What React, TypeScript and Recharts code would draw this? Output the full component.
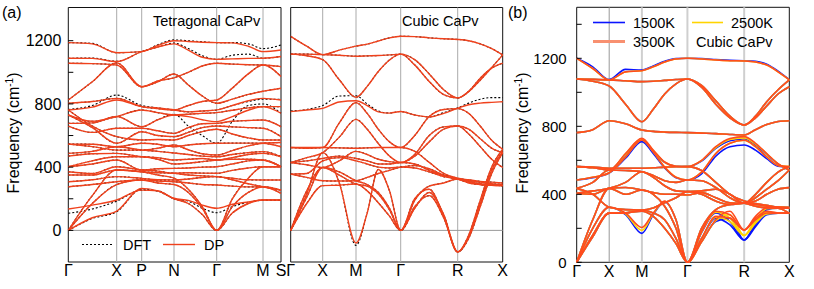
import React from 'react';
import { LineChart, Line, XAxis, YAxis, ReferenceLine, ReferenceArea } from 'recharts';

const FONT = '"Liberation Sans", Arial, Helvetica, sans-serif';

// ---------- panel (a) left: tetragonal CaPv, path G-X-P-N-G-M-S ----------
const tetK = [0, 24, 48.4, 73.4, 89.5, 105.7, 120, 134, 148.4, 164, 180, 194.7, 212.7];
const tetTicks = [0, 48.4, 73.4, 105.7, 148.4, 194.7, 212.7];
const tetLabels = ['Γ', 'X', 'P', 'N', 'Γ', 'M', 'S'];

const tetDP = [
  [1188, 1180, 1124, 1131, 1170, 1200, 1195, 1190, 1188, 1186, 1165, 1131, 1141],
  [1089, 1088, 1068, 1131, 1160, 1180, 1140, 1095, 1082, 1085, 1088, 1089, 1100],
  [1057, 1055, 1046, 909, 940, 989, 920, 850, 804, 830, 860, 880, 899],
  [825, 940, 1060, 909, 945, 965, 1000, 1040, 1057, 1052, 1048, 1046, 1036],
  [804, 815, 835, 783, 770, 762, 790, 815, 825, 900, 990, 1046, 973],
  [762, 780, 825, 783, 775, 762, 750, 755, 762, 790, 820, 835, 825],
  [730, 690, 720, 762, 745, 730, 735, 740, 745, 760, 775, 783, 783],
  [677, 680, 720, 656, 700, 730, 720, 700, 688, 720, 760, 783, 741],
  [660, 620, 646, 646, 630, 614, 650, 675, 677, 690, 695, 698, 656],
  [730, 650, 551, 624, 600, 593, 620, 650, 660, 655, 650, 646, 593],
  [762, 660, 593, 572, 575, 572, 600, 625, 640, 610, 585, 572, 572],
  [546, 545, 529, 551, 545, 529, 540, 548, 551, 552, 552, 551, 529],
  [546, 530, 508, 508, 520, 540, 510, 485, 477, 505, 535, 551, 556],
  [487, 500, 529, 508, 500, 490, 480, 470, 466, 480, 492, 498, 466],
  [470, 485, 487, 466, 460, 445, 450, 455, 445, 460, 480, 487, 466],
  [403, 440, 466, 466, 450, 420, 425, 435, 445, 450, 450, 445, 403],
  [403, 420, 445, 382, 390, 392, 395, 400, 403, 420, 440, 445, 403],
  [371, 360, 403, 382, 375, 361, 365, 362, 361, 380, 395, 403, 403],
  [350, 350, 382, 371, 365, 361, 350, 345, 340, 330, 320, 319, 319],
  [308, 320, 340, 329, 320, 319, 325, 335, 340, 320, 295, 276, 255],
  [276, 290, 308, 319, 312, 308, 300, 290, 287, 280, 275, 276, 234],
  [135, 160, 192, 255, 250, 203, 190, 160, 140, 165, 180, 192, 192],
  [0, 80, 122, 266, 250, 200, 170, 100, 0, 110, 170, 192, 192],
  [0, 170, 290, 319, 300, 290, 240, 140, 0, 150, 240, 276, 255],
  [0, 220, 382, 371, 350, 330, 260, 150, 0, 200, 330, 403, 403],
];
// DFT bands where they visibly leave the DP ones
const tetDFTEdits: Record<number, number[]> = {
  0: [1188, 1183, 1124, 1131, 1175, 1205, 1200, 1193, 1188, 1188, 1180, 1150, 1173],
  1: [1089, 1090, 1070, 1131, 1160, 1185, 1150, 1105, 1082, 1108, 1115, 1089, 1100],
  5: [765, 790, 856, 790, 775, 762, 750, 755, 762, 790, 815, 830, 830],
  7: [677, 680, 720, 656, 700, 735, 660, 600, 551, 690, 790, 800, 741],
  21: [108, 135, 185, 255, 250, 200, 185, 140, 112, 150, 178, 192, 192],
  22: [0, 75, 118, 262, 248, 200, 170, 100, 0, 110, 170, 190, 190],
};
const tetDFT = tetDP.map((b, i) => tetDFTEdits[i] ?? b);

// ---------- panel (a) right: cubic CaPv, path G-X-M-G-R-X ----------
const cubK = [0, 16, 32, 48.6, 65.3, 76.5, 87.6, 98.8, 110, 124, 138.5, 153, 167, 178, 189.5, 201, 212];
const cubTicks = [0, 32, 65.3, 110, 167, 212];
const cubLabels = ['Γ', 'X', 'M', 'Γ', 'R', 'X'];

const cubDP = [
  [1227, 1165, 1112, 1140, 1166, 1178, 1198, 1218, 1228, 1226, 1218, 1212, 1208, 1200, 1180, 1150, 1110],
  [1115, 1115, 1112, 1108, 1102, 1104, 1106, 1110, 1115, 1080, 990, 890, 838, 878, 950, 1030, 1110],
  [1115, 1105, 1080, 953, 842, 911, 1005, 1078, 1115, 1047, 942, 859, 838, 880, 963, 1026, 1058],
  [751, 762, 772, 812, 820, 790, 750, 742, 752, 730, 718, 740, 773, 795, 805, 810, 814],
  [524, 520, 524, 680, 808, 740, 640, 560, 524, 600, 720, 765, 770, 740, 660, 570, 513],
  [429, 460, 492, 590, 702, 640, 550, 470, 429, 480, 600, 655, 660, 640, 580, 520, 490],
  [524, 524, 524, 522, 520, 522, 524, 524, 524, 500, 430, 360, 330, 320, 310, 305, 300],
  [429, 415, 398, 440, 500, 480, 450, 435, 429, 470, 560, 640, 660, 610, 530, 450, 398],
  [429, 440, 455, 470, 455, 440, 420, 420, 429, 420, 380, 345, 325, 315, 305, 295, 290],
  [356, 335, 314, 312, 314, 335, 360, 380, 400, 410, 390, 350, 325, 305, 290, 285, 283],
  [0, 170, 283, 286, 293, 250, 175, 90, 0, 140, 240, 100, -136, -30, 190, 400, 513],
  [0, 230, 492, 300, -80, 110, 385, 250, 0, 150, 220, 80, -136, -40, 170, 380, 500],
  [0, 210, 398, 370, 314, 290, 240, 140, 0, 190, 280, 300, 325, 310, 295, 288, 283],
  [0, 250, 398, 350, 293, 280, 230, 130, 0, 200, 260, 90, -136, -50, 150, 360, 490],
  [356, 360, 440, 460, 440, 420, 400, 395, 400, 395, 370, 340, 325, 300, 290, 285, 283],
];
const cubDFTEdits: Record<number, number[]> = {
  3: [755, 765, 790, 850, 852, 800, 755, 742, 752, 730, 718, 745, 775, 805, 830, 840, 840],
  11: [0, 230, 492, 300, -95, 110, 385, 250, 0, 150, 220, 80, -136, -40, 170, 380, 500],
};
const cubDFT = cubDP.map((b, i) => cubDFTEdits[i] ?? b);

// ---------- panel (b): cubic CaPv at three temperatures ----------
const hotK = [0, 16, 32.4, 48.7, 65, 76.3, 87.7, 99, 110.4, 124.5, 138.7, 152.8, 167, 178.3, 189.5, 200.8, 212];
const hotTicks = [0, 32.4, 65, 110.4, 167, 212];
const hotLabels = ['Γ', 'X', 'M', 'Γ', 'R', 'X'];

const band3500 = [
  [1200, 1140, 1073, 1120, 1127, 1150, 1178, 1196, 1200, 1196, 1190, 1186, 1184, 1178, 1160, 1120, 1073],
  [1078, 1076, 1073, 1068, 1063, 1065, 1070, 1075, 1078, 1040, 950, 860, 808, 860, 945, 1015, 1073],
  [1078, 1065, 1037, 930, 827, 900, 990, 1050, 1078, 1030, 930, 850, 808, 850, 920, 990, 1033],
  [763, 780, 833, 815, 778, 770, 766, 764, 763, 760, 757, 752, 749, 780, 810, 828, 833],
  [563, 556, 543, 640, 730, 660, 590, 565, 563, 600, 680, 728, 739, 700, 640, 580, 543],
  [484, 500, 527, 620, 720, 650, 560, 500, 484, 530, 640, 700, 718, 680, 620, 570, 563],
  [563, 560, 553, 553, 553, 556, 560, 562, 563, 540, 470, 400, 360, 345, 335, 325, 318],
  [435, 470, 543, 540, 533, 510, 480, 470, 484, 480, 440, 380, 347, 400, 470, 530, 563],
  [406, 420, 435, 470, 533, 500, 450, 420, 416, 420, 430, 400, 347, 380, 430, 480, 543],
  [406, 400, 435, 440, 425, 410, 400, 400, 396, 410, 380, 350, 347, 360, 400, 430, 439],
  [435, 400, 324, 310, 308, 320, 350, 380, 416, 400, 360, 340, 347, 330, 320, 318, 288],
  [0, 200, 324, 290, 205, 290, 360, 250, 0, 180, 300, 280, 190, 270, 320, 318, 318],
  [0, 250, 435, 400, 425, 400, 330, 200, 0, 200, 310, 340, 347, 340, 330, 325, 324],
  [0, 150, 289, 290, 308, 290, 250, 140, 0, 120, 250, 300, 190, 260, 300, 290, 289],
  [0, 160, 289, 291, 300, 270, 200, 110, 0, 140, 270, 260, 190, 250, 290, 289, 289],
];
const edits1500: Record<number, number[]> = {
  0: [1200, 1150, 1075, 1135, 1131, 1155, 1182, 1198, 1200, 1198, 1193, 1188, 1186, 1182, 1165, 1125, 1075],
  4: [563, 556, 543, 635, 720, 655, 588, 565, 563, 595, 670, 715, 725, 690, 635, 578, 543],
  5: [484, 498, 525, 612, 710, 640, 555, 498, 484, 520, 625, 680, 690, 660, 610, 565, 560],
  11: [0, 200, 324, 280, 170, 280, 355, 250, 0, 175, 290, 240, 131, 230, 310, 318, 318],
  13: [0, 150, 289, 290, 308, 290, 250, 140, 0, 120, 240, 260, 131, 220, 290, 290, 289],
  14: [0, 160, 289, 291, 300, 270, 200, 110, 0, 140, 260, 220, 131, 210, 280, 289, 289],
};
const edits2500: Record<number, number[]> = {
  4: [563, 556, 543, 638, 725, 658, 589, 565, 563, 598, 675, 722, 732, 695, 638, 579, 543],
  11: [0, 200, 324, 285, 188, 285, 358, 250, 0, 178, 295, 260, 158, 250, 315, 318, 318],
  13: [0, 150, 289, 290, 308, 290, 250, 140, 0, 120, 245, 280, 158, 240, 295, 290, 289],
  14: [0, 160, 289, 291, 300, 270, 200, 110, 0, 140, 265, 240, 158, 230, 285, 289, 289],
};
const band1500 = band3500.map((b, i) => edits1500[i] ?? b);
const band2500 = band3500.map((b, i) => edits2500[i] ?? b);

const freqTicksA = [0, 200, 400, 600, 800, 1000, 1200];
const freqTicksB = [0, 200, 400, 600, 800, 1000, 1200, 1400];

type SeriesDef = { id: string; bands: number[][]; stroke: string; width: number; dash?: string; opacity?: number };
type VLine = { at: number; stroke: string; width: number };

function BandPanel(p: {
  left: number; width: number; plotLeft: number; plotRight: number; plotTop: number; plotBottom: number;
  ks: number[]; ticks: number[]; labels: string[]; yDomain: [number, number]; yTicks: number[];
  showLeft: boolean; leftTicks: boolean; leftFont: number; leftGap: number; series: SeriesDef[];
  zeroLine?: boolean; vlines: VLine[];
}) {
  const rows = p.ks.map((k, i) => {
    const r: Record<string, number> = { k };
    p.series.forEach((s) => s.bands.forEach((b, j) => { r[s.id + j] = b[i]; }));
    return r;
  });
  const kMax = p.ks[p.ks.length - 1];

  // inward tick marks, labels only every 400
  const leftTick = (t: any) => {
    const edge = t.x + p.leftGap;
    const v = t.payload.value;
    return (
      <g>
        {p.leftTicks && <line x1={edge} x2={edge + 5} y1={t.y} y2={t.y} stroke="#000" />}
        {p.showLeft && v % 400 === 0 && (
          <text x={t.x} y={t.y} dy="0.36em" textAnchor="end" fontSize={p.leftFont} fontFamily={FONT} fill="#000">{v}</text>
        )}
      </g>
    );
  };
  const rightTick = (t: any) => <line x1={t.x - 5} x2={t.x} y1={t.y} y2={t.y} stroke="#000" />;

  return (
    <div style={{ position: 'absolute', left: p.left, top: 0 }}>
      <LineChart
        width={p.width}
        height={289}
        data={rows}
        margin={{ top: p.plotTop, right: p.width - p.plotRight, bottom: 0, left: 0 }}
      >
        <XAxis
          dataKey="k"
          type="number"
          domain={[0, kMax]}
          ticks={p.ticks}
          interval={0}
          tickFormatter={(v) => p.labels[p.ticks.indexOf(v)] ?? ''}
          axisLine={false}
          tickLine={false}
          tickSize={0}
          tickMargin={3}
          height={289 - p.plotBottom}
          tick={{ fontSize: 16, fill: '#000', fontFamily: FONT }}
        />
        <YAxis
          yAxisId="l"
          type="number"
          domain={p.yDomain}
          ticks={p.yTicks}
          interval={0}
          width={p.plotLeft}
          axisLine={false}
          tickLine={false}
          tickSize={0}
          tickMargin={p.leftGap}
          tick={leftTick}
        />
        <YAxis
          yAxisId="r"
          orientation="right"
          type="number"
          domain={p.yDomain}
          ticks={p.yTicks}
          interval={0}
          width={0}
          axisLine={false}
          tickLine={false}
          tickSize={0}
          tickMargin={0}
          tick={rightTick}
        />
        {p.vlines.map((v) => (
          <ReferenceLine key={'v' + v.at} yAxisId="l" x={v.at} stroke={v.stroke} strokeWidth={v.width} />
        ))}
        {p.zeroLine && <ReferenceLine yAxisId="l" y={0} stroke="#999" strokeWidth={1} />}
        {p.series.flatMap((s) =>
          s.bands.map((_, j) => (
            <Line
              key={s.id + j}
              yAxisId="l"
              dataKey={s.id + j}
              type="monotone"
              stroke={s.stroke}
              strokeWidth={s.width}
              strokeDasharray={s.dash}
              strokeOpacity={s.opacity ?? 1}
              dot={false}
              activeDot={false}
              isAnimationActive={false}
            />
          ))
        )}
        <ReferenceArea
          yAxisId="l"
          x1={0}
          x2={kMax}
          y1={p.yDomain[0]}
          y2={p.yDomain[1]}
          fill="none"
          fillOpacity={0}
          stroke="#111"
          strokeWidth={1}
          ifOverflow="visible"
        />
      </LineChart>
    </div>
  );
}

const txt = (left: number, top: number, s: React.ReactNode, size = 14.5) => (
  <div style={{ position: 'absolute', left, top, fontSize: size, lineHeight: 1, whiteSpace: 'nowrap', transform: 'translateY(-50%)' }}>{s}</div>
);

const freqLabel = (cx: number, cy: number) => (
  <div
    style={{
      position: 'absolute', left: cx, top: cy, fontSize: 16, whiteSpace: 'nowrap', lineHeight: 1,
      transform: 'translate(-50%,-50%) rotate(-90deg)',
    }}
  >
    Frequency (cm<sup style={{ fontSize: 10, verticalAlign: 6 }}>-1</sup>)
  </div>
);

const sample = (x1: number, x2: number, y: number, color: string, w: number, dash?: string) => (
  <svg style={{ position: 'absolute', left: 0, top: 0, overflow: 'visible' }} width={1} height={1}>
    <line x1={x1} x2={x2} y1={y} y2={y} stroke={color} strokeWidth={w} strokeDasharray={dash} />
  </svg>
);

const gridA = (ticks: number[]) =>
  ticks.slice(1, -1).map((t) => ({ at: t, stroke: '#aaa', width: 1 }));

export default function App() {
  return (
    <div style={{ position: 'absolute', left: 0, top: 0, width: 814, height: 289, background: '#fff', fontFamily: FONT, color: '#000', overflow: 'hidden' }}>
      <BandPanel
        left={0} width={287} plotLeft={68.3} plotRight={281} plotTop={7.5} plotBottom={262}
        ks={tetK} ticks={tetTicks} labels={tetLabels} yDomain={[-200, 1410]} yTicks={freqTicksA}
        showLeft leftTicks leftFont={16} leftGap={7} zeroLine vlines={gridA(tetTicks)}
        series={[
          { id: 'dft', bands: tetDFT, stroke: '#000', width: 1.1, dash: '2 2' },
          { id: 'dp', bands: tetDP, stroke: '#f0411c', width: 1.4 },
        ]}
      />
      <BandPanel
        left={284} width={226} plotLeft={6.7} plotRight={218.7} plotTop={7.5} plotBottom={262}
        ks={cubK} ticks={cubTicks} labels={cubLabels} yDomain={[-200, 1410]} yTicks={freqTicksA}
        showLeft={false} leftTicks={false} leftFont={16} leftGap={0} zeroLine vlines={gridA(cubTicks)}
        series={[
          { id: 'dft', bands: cubDFT, stroke: '#000', width: 1.1, dash: '2 2' },
          { id: 'dp', bands: cubDP, stroke: '#f0411c', width: 1.4 },
        ]}
      />
      <BandPanel
        left={510} width={304} plotLeft={66.7} plotRight={279.3} plotTop={7.3} plotBottom={262.3}
        ks={hotK} ticks={hotTicks} labels={hotLabels} yDomain={[0, 1500]} yTicks={freqTicksB}
        showLeft leftTicks leftFont={15} leftGap={10} vlines={[
          { at: 32.4, stroke: '#999', width: 1 },
          { at: 65, stroke: '#cfcfcf', width: 2 },
          { at: 110.4, stroke: '#cfcfcf', width: 2 },
          { at: 167, stroke: '#cfcfcf', width: 2 },
        ]}
        series={[
          { id: 'k15', bands: band1500, stroke: '#0a14ff', width: 1.6 },
          { id: 'k25', bands: band2500, stroke: '#ffd400', width: 1.6 },
          { id: 'k35', bands: band3500, stroke: '#ff4b1f', width: 1.6 },
        ]}
      />

      {txt(2, 13, '(a)', 16)}
      {txt(508, 13, '(b)', 16)}
      {freqLabel(13, 133)}
      {freqLabel(522, 133)}
      {txt(153, 21, 'Tetragonal CaPv')}
      {txt(402, 21, 'Cubic CaPv')}

      {sample(82, 113, 244.5, '#000', 1.1, '2 2')}
      {txt(123, 245, 'DFT')}
      {sample(163, 195, 244.5, '#f0411c', 1.4)}
      {txt(204, 245, 'DP')}

      {sample(593, 625, 22.5, '#0a14ff', 1.6)}
      {txt(633, 22.5, '1500K')}
      {sample(692, 723, 22.5, '#ffd400', 1.6)}
      {txt(731, 22.5, '2500K')}
      {sample(593, 625, 41.5, '#f89070', 3)}
      {txt(633, 41.5, '3500K')}
      {txt(696, 41.5, 'Cubic CaPv')}
    </div>
  );
}
